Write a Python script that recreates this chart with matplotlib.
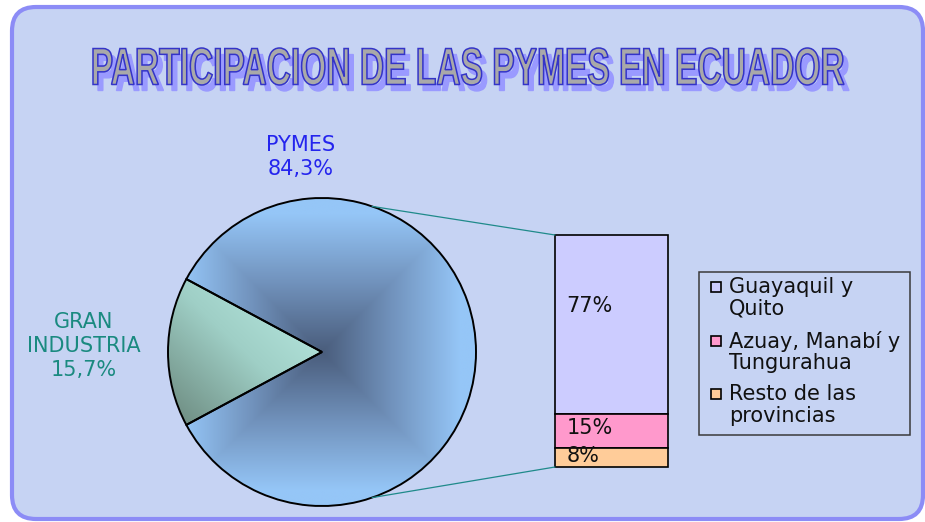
import numpy as np
import matplotlib.pyplot as plt
from matplotlib.patches import FancyBboxPatch, PathPatch, Rectangle, ConnectionPatch
from matplotlib.textpath import TextPath
from matplotlib.font_manager import FontProperties
from matplotlib.colors import LinearSegmentedColormap
from matplotlib.transforms import Affine2D

# data
title = "PARTICIPACION DE LAS PYMES EN ECUADOR"
pie_labels = ["GRAN\nINDUSTRIA", "PYMES"]
pie_values = [15.7, 84.3]
pie_text = ["15,7%", "84,3%"]
bar_labels = ["Guayaquil y\nQuito", "Azuay, Manabí y\nTungurahua", "Resto de las\nprovincias"]
bar_values = [77, 15, 8]
bar_colors = ["#ccccff", "#ff99cc", "#ffcc99"]

W, H = 925, 522
fig = plt.figure(figsize=(W / 100, H / 100), dpi=100)
fig.patch.set_facecolor('white')
bg = fig.add_axes([0, 0, 1, 1])
bg.set_xlim(0, W)
bg.set_ylim(H, 0)
bg.axis('off')

# rounded background panel
bg.add_patch(FancyBboxPatch((12, 7), 911, 512, boxstyle="round,pad=0,rounding_size=24",
                            fc='#c6d3f3', ec='#8c8cf6', lw=3))

# title as outlined text with shadow
fp = FontProperties(family='Liberation Sans', weight='bold')
tp = TextPath((0, 0), title, size=1, prop=fp)
ext = tp.get_extents()
tr = Affine2D().translate(-ext.x0, -ext.y0).scale(751 / ext.width, -37 / ext.height).translate(93, 85)
tpath = tr.transform_path(tp)
bg.add_patch(PathPatch(tpath, fc='#9a9aff', ec='#9a9aff', lw=1,
                       transform=Affine2D().translate(5, 6) + bg.transData))
bg.add_patch(PathPatch(tpath, fc='#a9a9a9', ec='#3434c8', lw=1.1))

# pie
cx, cy, r = 322, 352, 154
pad = 1.06
pax = fig.add_axes([(cx - r * pad) / W, (H - cy - r * pad) / H, 2 * r * pad / W, 2 * r * pad / H])
start = 180 - pie_values[0] / 100 * 360 / 2
wedges, _ = pax.pie(pie_values, startangle=start, radius=1,
                    wedgeprops=dict(fc='none', ec='black', lw=1.4))
pax.set_xlim(-pad, pad)
pax.set_ylim(-pad, pad)
pax.axis('off')

g = np.linspace(-1, 1, 400)
X, Y = np.meshgrid(g, g)
t_main = np.clip(np.maximum(abs(X), abs(Y)) / 0.9, 0, 1)
cm_main = LinearSegmentedColormap.from_list('pm', ['#4a5d7c', '#7192bc', '#95c6f7'])
im = pax.imshow(t_main, cmap=cm_main, extent=(-1, 1, -1, 1), origin='lower', zorder=0)
im.set_clip_path(wedges[1])

t_gi = np.clip(((X + 1) + (Y + 0.48) / 0.96) / 2, 0, 1)
cm_gi = LinearSegmentedColormap.from_list('gi', ['#6a877c', '#9fcfc6', '#bdeee6'])
im2 = pax.imshow(t_gi, cmap=cm_gi, extent=(-1, 1, -1, 1), origin='lower', zorder=0)
im2.set_clip_path(wedges[0])

bg.text(301, 157, pie_labels[1] + "\n" + pie_text[1], color='#2424ee', fontsize=15,
        ha='center', va='center', linespacing=1.25)
bg.text(84, 346, pie_labels[0] + "\n" + pie_text[0], color='#1a8a80', fontsize=15,
        ha='center', va='center', linespacing=1.22)

# bar of pie
bx0, bx1, by0, by1 = 555, 668, 235, 467
bax = fig.add_axes([bx0 / W, (H - by1) / H, (bx1 - bx0) / W, (by1 - by0) / H])
bottoms = np.cumsum([0] + bar_values[::-1][:-1])[::-1]
bars = bax.bar(0, bar_values, bottom=bottoms, width=1, color=bar_colors,
               edgecolor='black', lw=1.2, clip_on=False)
bax.set_xlim(-0.5, 0.5)
bax.set_ylim(0, 100)
bax.axis('off')
for v, b in zip(bar_values, bottoms):
    bax.text(-0.4, b + v * 0.6, f"{v}%", ha='left', va='center', fontsize=15, color='#111111')

# connector lines
a = np.deg2rad(71)
for sgn, yb in [(1, 100), (-1, 0)]:
    con = ConnectionPatch(xyA=(np.cos(a), sgn * np.sin(a)), coordsA=pax.transData,
                          xyB=(-0.5, yb), coordsB=bax.transData, color='#1f8a8a', lw=0.9)
    fig.add_artist(con)

# legend
lx0, ly0, lx1, ly1 = 699, 272, 910, 435
bg.add_patch(Rectangle((lx0, ly0), lx1 - lx0, ly1 - ly0, fill=False, ec='#3a3a3a', lw=1.1))
for i, (lab, col) in enumerate(zip(bar_labels, bar_colors)):
    ty = 287 + i * 53.5
    bg.add_patch(Rectangle((711, ty - 5), 10, 10, fc=col, ec='black', lw=1.2))
    bg.text(729, ty - 10, lab, ha='left', va='top', fontsize=15, color='#111111', linespacing=1.1)

fig.savefig('out.png', dpi=100, facecolor='white')
